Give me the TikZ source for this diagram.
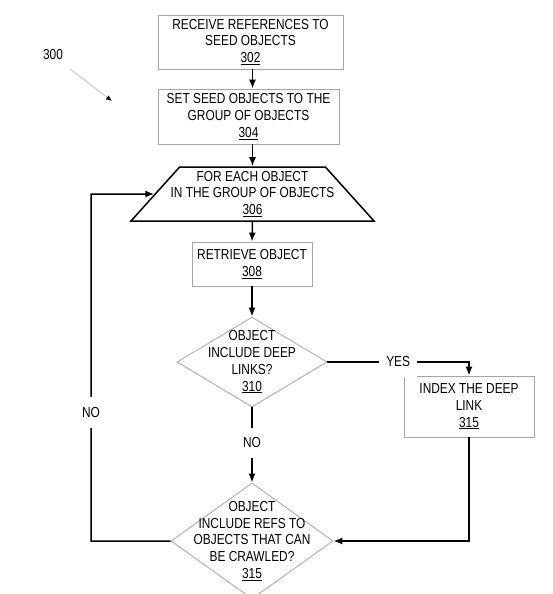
\documentclass[tikz,border=0pt]{standalone}
\usepackage{fontspec}
\setmainfont{Liberation Sans}[FakeStretch=0.82]
\usetikzlibrary{shapes.geometric,arrows.meta}
\tikzset{txt/.style={align=center, inner sep=0pt, font=\fontsize{14.5}{16.7}\selectfont},
  box/.style={txt, rectangle, draw=gray!70, line width=0.8pt},
  dia/.style={diamond, draw=gray!70, line width=0.8pt, inner sep=0pt},
  flow/.style={black, line width=1.5pt, -{Latex[length=9pt,width=7pt]}},
  tag/.style={txt, fill=white, inner xsep=7pt, inner ysep=10pt},
  lead/.style={gray!45, line width=0.9pt, -{Latex[length=6pt,width=5pt,black]}}}

\begin{document}
\begin{tikzpicture}[x=1pt,y=-1pt]
  \fill[white] (0,0) rectangle (552,594);
  \useasboundingbox (0,0) rectangle (552,594);
  \clip (0,0) rectangle (552,594);
  \begin{scope}
   \node[box, minimum width=185pt, minimum height=54pt] (recv) at (250.5,42) {RECEIVE REFERENCES TO\\SEED OBJECTS\\\underline{302}};
   \node[box, minimum width=181pt, minimum height=55pt] (seed) at (248.5,116.5) {SET SEED OBJECTS TO THE\\GROUP OF OBJECTS\\\underline{304}};
   \node[trapezium, trapezium angle=48, trapezium stretches body, draw=black, line width=1.5pt, inner sep=0pt,
     minimum width=243pt, minimum height=54pt,
     label={[txt]center:{FOR EACH OBJECT\\IN THE GROUP OF OBJECTS\\\underline{306}}}] (loop) at (252.5,194) {\rule{0pt}{54pt}};
   \node[box, minimum width=120pt, minimum height=44pt] (fetch) at (252,264) {RETRIEVE OBJECT\\\underline{308}};
   \node[dia, minimum width=150pt, minimum height=90pt,
     label={[txt]center:{OBJECT\\INCLUDE DEEP\\LINKS?\\\underline{310}}}] (deep) at (252,362) {};
   \node[box, minimum width=130pt, minimum height=61pt] (index) at (469,406.5) {INDEX THE DEEP\\LINK\\\underline{315}};
   \node[dia, minimum width=162pt, minimum height=116pt,
     label={[txt]center:{OBJECT\\INCLUDE REFS TO\\OBJECTS THAT CAN\\BE CRAWLED?\\\underline{315}}}] (crawl) at (252,541) {};
   \node[txt] (num) at (53,55) {300};
   \coordinate (lead0) at (70,69);
   \coordinate (lead1) at (112,101);
   \coordinate (back) at (91,541);
   \draw[lead] (lead0) -- (lead1);
   \draw[flow] (recv.south -| loop.north) -- (seed.north -| loop.north);
   \draw[flow] (seed.south -| loop.north) -- (loop.north);
   \draw[flow] (loop.south) -- (fetch.north);
   \draw[flow] (fetch) -- (deep);
   \draw[flow] (deep.east) -- node[tag, pos=0.5]{YES} (deep.east -| index) -- (index.north);
   \draw[flow] (deep) -- node[tag, pos=0.47]{NO} (crawl);
   \draw[flow] (index.south) |- (crawl.east);
   \draw[flow] (crawl.west) -- (back) -- node[tag, pos=0.37]{NO} (back |- loop) -- (loop);
  \end{scope}
\end{tikzpicture}
\end{document}
